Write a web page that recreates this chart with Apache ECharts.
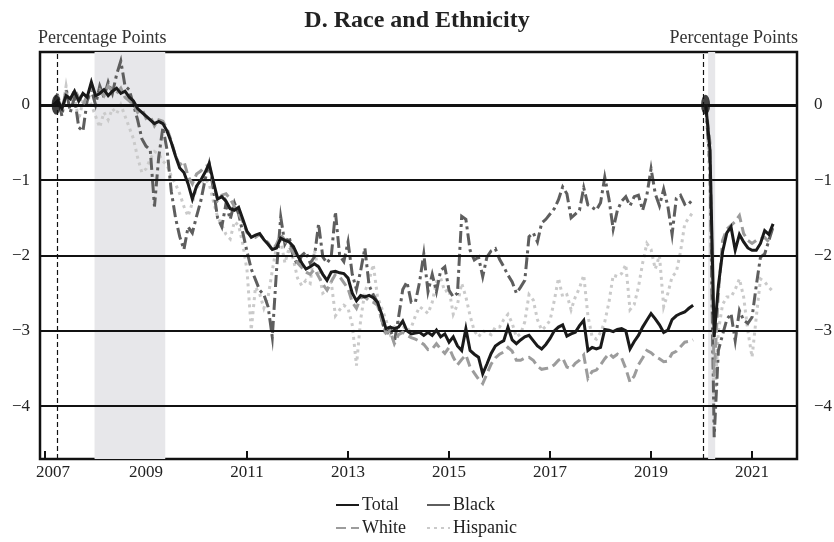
<!DOCTYPE html>
<html><head><meta charset="utf-8">
<script src="https://cdn.jsdelivr.net/npm/echarts@6/dist/echarts.min.js"></script>
<style>html,body{margin:0;padding:0;background:#fff}#c{width:834px;height:542px}</style>
</head><body><div id="c"></div>
<script>
// Monthly series: first segment starts Mar 2007, second segment starts Feb 2020
const preStart = [2007, 3];
const postStart = [2020, 2];

const totalPre = [
  0.00,0.05,-0.05,0.12,0.08,0.18,0.05,0.15,0.10,0.30,0.12,0.15,0.20,0.12,0.18,0.22,0.15,0.18,0.10,0.05,-0.05,-0.10,-0.15,-0.20,-0.25,-0.22,-0.25,
  -0.35,-0.50,-0.68,-0.84,-0.90,-1.05,-1.25,-1.08,-1.00,-0.90,-0.78,-1.02,-1.25,-1.22,-1.28,-1.38,-1.40,-1.36,-1.52,-1.68,-1.76,-1.73,-1.71,-1.79,-1.85,-1.92,
  -1.90,-1.77,-1.80,-1.82,-1.88,-2.00,-2.10,-2.18,-2.15,-2.11,-2.15,-2.25,-2.33,-2.22,-2.21,-2.23,-2.24,-2.30,-2.50,-2.60,-2.53,-2.55,-2.53,-2.56,-2.62,-2.78,
  -2.97,-2.95,-2.97,-2.95,-2.87,-3.00,-3.04,-3.03,-3.02,-3.06,-3.02,-3.06,-2.99,-3.08,-3.04,-3.15,-3.08,-3.20,-3.26,-2.97,-3.26,-3.31,-3.35,-3.57,-3.44,-3.30,
  -3.20,-3.16,-3.13,-2.95,-3.12,-3.17,-3.12,-3.08,-3.06,-3.13,-3.20,-3.24,-3.18,-3.10,-3.00,-2.95,-2.92,-3.07,-3.04,-3.02,-2.93,-2.86,-3.26,-3.22,-3.24,-3.22,
  -2.98,-2.99,-3.01,-2.98,-2.97,-3.00,-3.24,-3.14,-3.06,-2.95,-2.86,-2.77,-2.84,-2.92,-3.02,-2.99,-2.85,-2.80,-2.77,-2.75,-2.70,-2.66
];
const blackPre = [
  0.00,0.15,-0.15,0.20,-0.10,0.10,-0.30,-0.35,0.05,0.20,0.00,0.25,0.10,0.30,0.15,0.40,0.58,0.25,0.20,0.00,-0.20,-0.45,-0.55,-0.60,-1.35,-0.70,-0.30,
  -0.60,-1.15,-1.50,-1.75,-1.92,-1.62,-1.70,-1.48,-1.28,-1.00,-0.78,-1.12,-1.50,-1.62,-1.31,-1.52,-1.30,-1.45,-1.70,-1.95,-2.18,-2.32,-2.46,-2.52,-2.68,-3.08,
  -2.20,-1.49,-1.85,-1.75,-2.02,-2.12,-2.00,-1.95,-2.10,-2.02,-1.58,-2.02,-2.10,-2.02,-1.42,-2.00,-2.08,-1.82,-2.25,-2.45,-2.20,-1.90,-2.40,-2.52,-2.62,-2.85,
  -3.06,-2.97,-3.15,-2.82,-2.45,-2.35,-2.62,-2.62,-2.35,-1.98,-2.48,-2.25,-2.48,-2.20,-2.15,-2.46,-2.55,-2.50,-1.48,-1.52,-1.93,-2.06,-2.02,-2.28,-2.02,-1.94,
  -1.91,-2.05,-2.15,-2.26,-2.35,-2.50,-2.42,-2.33,-1.75,-1.70,-1.82,-1.57,-1.52,-1.45,-1.38,-1.26,-1.09,-1.18,-1.50,-1.45,-1.40,-1.10,-1.33,-1.36,-1.40,-1.30,
  -0.96,-1.25,-1.65,-1.40,-1.28,-1.22,-1.34,-1.22,-1.20,-1.40,-1.20,-0.85,-1.18,-1.34,-1.12,-1.35,-1.72,-1.24,-1.20,-1.32,-1.28,-1.33
];
const whitePre = [
  0.00,0.10,-0.05,0.15,0.05,0.20,0.10,0.00,0.12,0.22,0.15,0.20,0.12,0.25,0.18,0.15,0.22,0.10,0.05,0.00,-0.10,-0.05,-0.18,-0.15,-0.28,-0.20,-0.22,
  -0.32,-0.48,-0.68,-0.80,-0.75,-0.95,-1.05,-0.92,-0.88,-0.82,-0.80,-1.05,-1.27,-1.20,-1.18,-1.25,-1.35,-1.45,-1.55,-1.70,-1.74,-1.76,-1.72,-1.78,-1.83,-1.93,
  -1.85,-1.72,-1.80,-1.89,-1.96,-2.10,-2.16,-2.22,-2.25,-2.18,-2.28,-2.38,-2.46,-2.35,-2.25,-2.28,-2.36,-2.44,-2.62,-2.70,-2.56,-2.55,-2.60,-2.62,-2.66,-2.85,
  -3.03,-3.00,-3.17,-3.05,-3.02,-3.06,-3.09,-3.11,-3.14,-3.18,-3.25,-3.24,-3.17,-3.24,-3.30,-3.22,-3.35,-3.45,-3.38,-3.32,-3.48,-3.56,-3.64,-3.70,-3.57,-3.44,
  -3.36,-3.31,-3.28,-3.22,-3.27,-3.39,-3.39,-3.36,-3.35,-3.39,-3.47,-3.51,-3.50,-3.49,-3.45,-3.39,-3.36,-3.48,-3.50,-3.43,-3.39,-3.32,-3.63,-3.54,-3.52,-3.45,
  -3.37,-3.30,-3.35,-3.31,-3.36,-3.50,-3.68,-3.60,-3.45,-3.36,-3.26,-3.29,-3.34,-3.37,-3.41,-3.40,-3.30,-3.27,-3.21,-3.15,-3.14,-3.12
];
const hispanicPre = [
  0.00,0.15,-0.10,0.25,-0.05,0.10,-0.20,0.05,0.15,0.00,-0.15,-0.30,-0.10,-0.20,-0.05,-0.12,0.00,-0.15,-0.30,-0.45,-0.70,-0.90,-0.85,-0.72,-0.62,-0.65,-0.75,
  -0.80,-0.95,-1.05,-1.18,-1.35,-1.48,-1.30,-1.10,-1.05,-0.98,-1.05,-1.28,-1.49,-1.60,-1.72,-1.78,-1.55,-1.60,-1.85,-2.20,-2.99,-2.42,-2.51,-2.70,-2.55,-2.20,
  -1.88,-1.80,-2.10,-1.90,-2.05,-2.30,-2.40,-2.33,-2.37,-1.93,-2.20,-2.50,-2.46,-2.35,-2.80,-2.72,-2.66,-2.70,-2.92,-3.46,-2.85,-2.48,-2.33,-2.12,-2.55,-2.70,
  -2.85,-3.04,-2.95,-2.88,-2.93,-3.00,-2.96,-2.80,-2.68,-2.72,-2.77,-2.62,-2.35,-2.30,-2.48,-2.45,-2.78,-2.65,-2.37,-2.55,-2.80,-3.00,-3.08,-3.00,-3.02,-3.05,
  -2.95,-2.95,-2.85,-2.78,-2.90,-3.08,-3.04,-2.88,-2.52,-2.59,-2.85,-2.99,-2.94,-2.86,-2.60,-2.30,-2.55,-2.52,-2.72,-2.55,-2.43,-2.26,-2.80,-3.08,-3.11,-3.02,
  -2.88,-2.62,-2.26,-2.28,-2.24,-2.12,-2.72,-2.65,-2.42,-2.10,-1.84,-1.92,-2.18,-2.00,-2.68,-2.50,-2.28,-2.22,-1.95,-1.58,-1.50,-1.42
];
const totalPost    = [0,-0.60,-3.08,-2.40,-1.95,-1.70,-1.62,-1.93,-1.72,-1.82,-1.90,-1.93,-1.93,-1.84,-1.67,-1.72,-1.58];
const blackPost    = [0,-0.80,-4.41,-3.26,-3.05,-2.85,-2.77,-3.13,-2.73,-2.86,-2.90,-2.82,-2.40,-2.02,-1.98,-1.80,-1.62];
const whitePost    = [0,-0.50,-3.60,-2.50,-1.80,-1.65,-1.60,-1.55,-1.47,-1.71,-1.80,-1.84,-1.80,-1.78,-1.76,-1.82,-1.84];
const hispanicPost = [0,-1.00,-4.10,-3.00,-2.65,-2.55,-2.55,-2.45,-2.31,-2.55,-3.00,-3.35,-2.82,-2.31,-2.35,-2.42,-2.48];

const xTicks = [2007, 2009, 2011, 2013, 2015, 2017, 2019, 2021];
const yTicks = [0, -1, -2, -3, -4];
const recessions = [[2007.98, 2009.38], [2020.13, 2020.27]];
const refLines = [2007.24, 2020.04];
const basePoints = [[2007.22, 0], [2020.08, 0]];

function monthDate(start, i) {
  const t = start[0] * 12 + (start[1] - 1) + i;
  return Math.floor(t / 12) + (t % 12) / 12;
}
function pairs(start, vals) { return vals.map((v, i) => [monthDate(start, i), v]); }

const FONT = 'Liberation Serif';
const styles = {
  Total:    { color: '#1a1a1a', width: 3, type: 'solid', z: 6 },
  Black:    { color: '#5e5e5e', width: 3, type: [12, 4, 3, 4], z: 4 },
  White:    { color: '#9c9c9c', width: 3, type: [10, 5], z: 5 },
  Hispanic: { color: '#cacaca', width: 3, type: [3, 4], z: 3 }
};
const groups = [
  ['Total', totalPre, totalPost],
  ['Black', blackPre, blackPost],
  ['White', whitePre, whitePost],
  ['Hispanic', hispanicPre, hispanicPost]
];

const series = [];
series.push({
  type: 'line', name: 'shade', data: [[2007, 0]], showSymbol: false, symbol: 'none',
  lineStyle: { opacity: 0 }, silent: true, z: 0,
  markArea: { silent: true, itemStyle: { color: '#e7e7ea' },
    data: recessions.map(r => [{ xAxis: r[0] }, { xAxis: r[1] }]) }
});
series.push({
  type: 'line', name: 'grid', data: [[2007, 0]], showSymbol: false, symbol: 'none',
  lineStyle: { opacity: 0 }, silent: true, z: 1,
  markLine: { silent: true, symbol: 'none', label: { show: false },
    data: yTicks.map(v => ({ yAxis: v, lineStyle: { color: '#111', width: v === 0 ? 3 : 2, type: 'solid' } }))
      .concat(refLines.map(v => ({ xAxis: v, lineStyle: { color: '#111', width: 1.2, type: [5, 3] } }))) }
});
groups.forEach(([name, pre, post]) => {
  const s = styles[name];
  [[preStart, pre], [postStart, post]].forEach(([st, vals]) => {
    series.push({
      type: 'line', name, data: pairs(st, vals), symbol: 'none', showSymbol: false,
      z: s.z, color: s.color,
      lineStyle: { color: s.color, width: s.width, type: s.type, cap: 'butt', join: 'miter' }
    });
  });
});
series.push({
  type: 'scatter', name: 'base', data: basePoints, symbol: 'circle', symbolSize: [9, 20],
  itemStyle: { color: '#111' }, z: 10, silent: true
});

function legendAt(name, left, top, extra) {
  return {
    data: [Object.assign({ name, itemStyle: { opacity: 0 } }, extra || {})],
    left, top, padding: 0, itemWidth: 23, itemHeight: 14,
    selectedMode: false,
    textStyle: { fontFamily: FONT, fontSize: 18, color: '#222', padding: [0, 0, 0, -2] }
  };
}

const yLabelFmt = v => (v === 0 ? '0' : '\u2212' + Math.abs(v));
const chart = echarts.init(document.getElementById('c'));
chart.setOption({
  backgroundColor: '#fff',
  animation: false,
  title: [
    { text: 'D. Race and Ethnicity', left: 'center', top: 9, padding: 0,
      textStyle: { fontFamily: FONT, fontWeight: 'bold', fontSize: 24, color: '#222' } },
    { text: 'Percentage Points', left: 38, top: 29, padding: 0,
      textStyle: { fontFamily: FONT, fontWeight: 'normal', fontSize: 18, color: '#333' } },
    { text: 'Percentage Points', right: 36, top: 29, padding: 0,
      textStyle: { fontFamily: FONT, fontWeight: 'normal', fontSize: 18, color: '#333' } }
  ],
  legend: [
    legendAt('Total', 335, 496),
    legendAt('Black', 426, 496, { lineStyle: { type: 'solid' } }),
    legendAt('White', 335, 519),
    legendAt('Hispanic', 426, 519)
  ],
  grid: { left: 40, right: 37, top: 52, bottom: 83, show: true, borderColor: '#111', borderWidth: 2.5,
    backgroundColor: 'transparent', outerBoundsMode: 'none', containLabel: false },
  xAxis: {
    type: 'value', min: 2006.9, max: 2021.89,
    axisLine: { show: false, onZero: false }, splitLine: { show: false },
    axisTick: { show: true, inside: true, length: 8, customValues: xTicks, lineStyle: { color: '#111', width: 2 } },
    axisLabel: { customValues: xTicks, margin: 5, fontFamily: FONT, fontSize: 17, color: '#222',
      formatter: v => (v === xTicks[0] ? '{first|' + v + '}' : String(v)),
      rich: { first: { fontFamily: FONT, fontSize: 17, color: '#222', padding: [0, 0, 0, 16] } } }
  },
  yAxis: [
    { type: 'value', min: -4.7, max: 0.7, position: 'left',
      axisLine: { show: false }, axisTick: { show: false }, splitLine: { show: false },
      axisLabel: { customValues: yTicks, margin: 10, fontFamily: FONT, fontSize: 17, color: '#222', formatter: yLabelFmt } },
    { type: 'value', min: -4.7, max: 0.7, position: 'right',
      axisLine: { show: false }, axisTick: { show: false }, splitLine: { show: false },
      axisLabel: { customValues: yTicks, margin: 17, fontFamily: FONT, fontSize: 17, color: '#222', formatter: yLabelFmt } }
  ],
  series
});
</script></body></html>
